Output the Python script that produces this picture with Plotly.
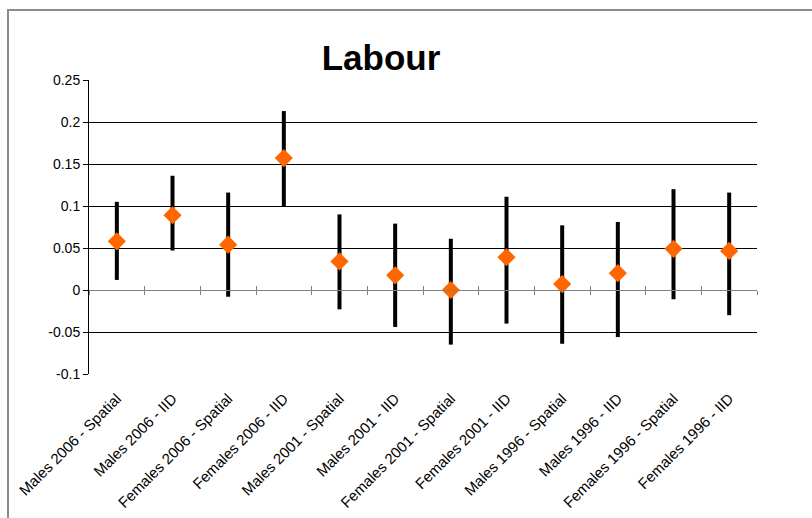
import plotly.graph_objects as go

# Labour estimates with interval bounds for each model
categories = [
    "Males 2006 - Spatial", "Males 2006 - IID",
    "Females 2006 - Spatial", "Females 2006 - IID",
    "Males 2001 - Spatial", "Males 2001 - IID",
    "Females 2001 - Spatial", "Females 2001 - IID",
    "Males 1996 - Spatial", "Males 1996 - IID",
    "Females 1996 - Spatial", "Females 1996 - IID",
]
estimate = [0.058, 0.089, 0.054, 0.157, 0.034, 0.0175, 0.0, 0.039, 0.007, 0.020, 0.049, 0.0465]
upper = [0.105, 0.136, 0.116, 0.213, 0.090, 0.079, 0.061, 0.111, 0.077, 0.081, 0.120, 0.116]
lower = [0.012, 0.047, -0.008, 0.099, -0.023, -0.044, -0.065, -0.040, -0.064, -0.056, -0.011, -0.030]

y_ticks = [-0.1, -0.05, 0, 0.05, 0.1, 0.15, 0.2, 0.25]
y_tick_text = ["-0.1", "-0.05", "0", "0.05", "0.1", "0.15", "0.2", "0.25"]
y_min, y_max = -0.1, 0.25

err_plus = [u - e for u, e in zip(upper, estimate)]
err_minus = [e - l for e, l in zip(estimate, lower)]

fig = go.Figure()
fig.add_trace(go.Scatter(
    x=categories, y=estimate, mode="markers",
    marker=dict(symbol="diamond", size=14, color="#FF6600", line=dict(width=0)),
    error_y=dict(type="data", array=err_plus, arrayminus=err_minus,
                 color="black", thickness=4, width=0),
    showlegend=False, hoverinfo="x+y",
))

# helper traces so the category axis drawn through zero is rendered
boundaries = [i - 0.5 for i in range(len(categories) + 1)]
for ax in ("x2", "x3"):
    fig.add_trace(go.Scatter(x=[boundaries[0], boundaries[-1]], y=[None, None],
                             xaxis=ax, mode="lines", showlegend=False,
                             hoverinfo="skip"))

zero_pos = (0 - y_min) / (y_max - y_min)
font = "Liberation Sans, Arial, sans-serif"

axis_common = dict(type="linear", range=[boundaries[0], boundaries[-1]],
                   overlaying="x", anchor="free", position=zero_pos,
                   showline=True, linecolor="#808080", linewidth=1,
                   tickvals=boundaries, tickcolor="#808080", ticklen=4, tickwidth=1,
                   showticklabels=False, showgrid=False, zeroline=False)

fig.update_layout(
    width=812, height=518,
    margin=dict(l=89, r=55, t=80, b=144),
    paper_bgcolor="white", plot_bgcolor="white",
    font=dict(family=font, size=14, color="black"),
    title=dict(text="<b>Labour</b>", x=381 / 812, xref="container", xanchor="center",
               y=1 - 58 / 518, yref="container", yanchor="middle",
               font=dict(family=font, size=35, color="black")),
    xaxis=dict(type="category", categoryorder="array", categoryarray=categories,
               range=[boundaries[0], boundaries[-1]], tickangle=-45,
               showline=False, ticks="", showgrid=False, zeroline=False,
               automargin=False, ticklabelstandoff=12, tickfont=dict(size=15)),
    xaxis2=dict(ticks="outside", **axis_common),
    xaxis3=dict(ticks="inside", **axis_common),
    yaxis=dict(range=[y_min, y_max], tickvals=y_ticks, ticktext=y_tick_text,
               showgrid=True, gridcolor="black", gridwidth=1,
               showline=True, linecolor="black", linewidth=1,
               ticks="outside", ticklen=5, tickcolor="black",
               zeroline=False, automargin=False, tickfont=dict(size=14)),
    shapes=[dict(type="rect", xref="paper", yref="paper",
                 x0=(8 - 89) / 668, x1=2, y0=-2, y1=1 + 70 / 294,
                 line=dict(color="#8c8c8c", width=2), fillcolor="rgba(0,0,0,0)",
                 layer="below")],
)

fig.write_html("out.html")
